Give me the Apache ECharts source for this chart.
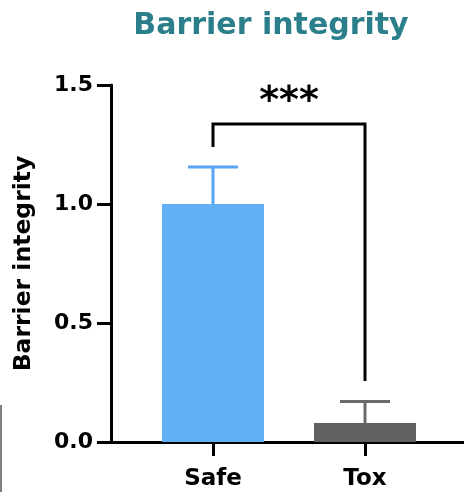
<!DOCTYPE html>
<html>
<head>
<meta charset="utf-8">
<script src="https://cdn.jsdelivr.net/npm/echarts@6/dist/echarts.min.js"></script>
<style>html,body{margin:0;padding:0;background:#fff}#c{width:464px;height:492px}</style>
</head>
<body>
<div id="c"></div>
<script>
const categories = ['Safe', 'Tox'];
const means = [1.0, 0.08];
const errors = [0.155, 0.09];
const barColors = ['#61b0f5', '#616161'];
const errColors = ['#5aa4f2', '#6a6a6a'];
const yTicks = [0, 0.5, 1.0, 1.5];
const bracket = { left: 1.24, top: 1.336, right: 0.256, text: '***' };

const chart = echarts.init(document.getElementById('c'));
const FONT = 'DejaVu Sans';
chart.setOption({
  animation: false,
  title: {
    text: 'Barrier integrity', left: 266, top: 6, textAlign: 'center',
    textStyle: { fontFamily: FONT, fontWeight: 'bold', fontSize: 30, color: '#2a7f8a' }
  },
  graphic: [{ type: 'line', shape: { x1: 1, y1: 405, x2: 1, y2: 492 }, style: { stroke: '#555', lineWidth: 1.5 } }],
  grid: [
    { left: 137, right: 23, top: 85, bottom: 50 },
    { left: 111, right: 0, top: 85, bottom: 50 }
  ],
  xAxis: [
    { type: 'category', gridIndex: 0, data: categories,
      axisLine: { show: false },
      axisTick: { show: true, alignWithLabel: true, length: 14, lineStyle: { color: '#000', width: 3 } },
      axisLabel: { fontFamily: FONT, fontWeight: 'bold', fontSize: 23, color: '#000', margin: 26 } },
    { type: 'value', gridIndex: 1, min: 0, max: 1,
      axisLine: { show: true, onZero: false, lineStyle: { color: '#000', width: 3 } },
      axisTick: { show: false }, axisLabel: { show: false }, splitLine: { show: false } }
  ],
  yAxis: [
    { type: 'value', gridIndex: 0, min: yTicks[0], max: yTicks[yTicks.length - 1], interval: 0.5, offset: 26,
      name: 'Barrier integrity', nameLocation: 'middle', nameGap: 75, nameRotate: 90,
      nameTextStyle: { fontFamily: FONT, fontWeight: 'bold', fontSize: 23.5, color: '#000' },
      axisLine: { show: true, lineStyle: { color: '#000', width: 3 } },
      axisTick: { show: true, length: 14, lineStyle: { color: '#000', width: 3 } },
      axisLabel: { fontFamily: FONT, fontWeight: 'bold', fontSize: 22, color: '#000', margin: 18,
        formatter: v => v.toFixed(1) },
      splitLine: { show: false } },
    { type: 'value', gridIndex: 1, show: false, min: 0, max: 1 }
  ],
  series: [
    { type: 'bar', xAxisIndex: 0, yAxisIndex: 0, barWidth: 102, z: 3,
      data: means.map((v, i) => ({ value: v, itemStyle: { color: barColors[i] } })) },
    { type: 'custom', xAxisIndex: 0, yAxisIndex: 0, z: 2,
      data: means.map((v, i) => [i, v, v + errors[i]]),
      renderItem: (params, api) => {
        const i = api.value(0);
        const base = api.coord([i, api.value(1)]);
        const top = api.coord([i, api.value(2)]);
        const col = errColors[i];
        return { type: 'group', children: [
          { type: 'line', shape: { x1: base[0], y1: base[1], x2: top[0], y2: top[1] }, style: { stroke: col, lineWidth: 3 } },
          { type: 'line', shape: { x1: top[0] - 25, y1: top[1], x2: top[0] + 25, y2: top[1] }, style: { stroke: col, lineWidth: 3 } }
        ] };
      } },
    { type: 'custom', xAxisIndex: 0, yAxisIndex: 0, z: 4,
      data: [[0, 1, bracket.left, bracket.top, bracket.right]],
      renderItem: (params, api) => {
        const a = api.coord([0, api.value(2)]);
        const b = api.coord([0, api.value(3)]);
        const c = api.coord([1, api.value(3)]);
        const d = api.coord([1, api.value(4)]);
        return { type: 'group', children: [
          { type: 'polyline', shape: { points: [a, b, c, d] }, style: { stroke: '#000', lineWidth: 3, fill: null } },
          { type: 'text', x: (b[0] + c[0]) / 2, y: b[1] - 3,
            style: { text: bracket.text, fontFamily: 'DejaVu Sans', fontWeight: 'bold', fontSize: 38, fill: '#000', align: 'center', verticalAlign: 'bottom' } }
        ] };
      } }
  ]
});
</script>
</body>
</html>
